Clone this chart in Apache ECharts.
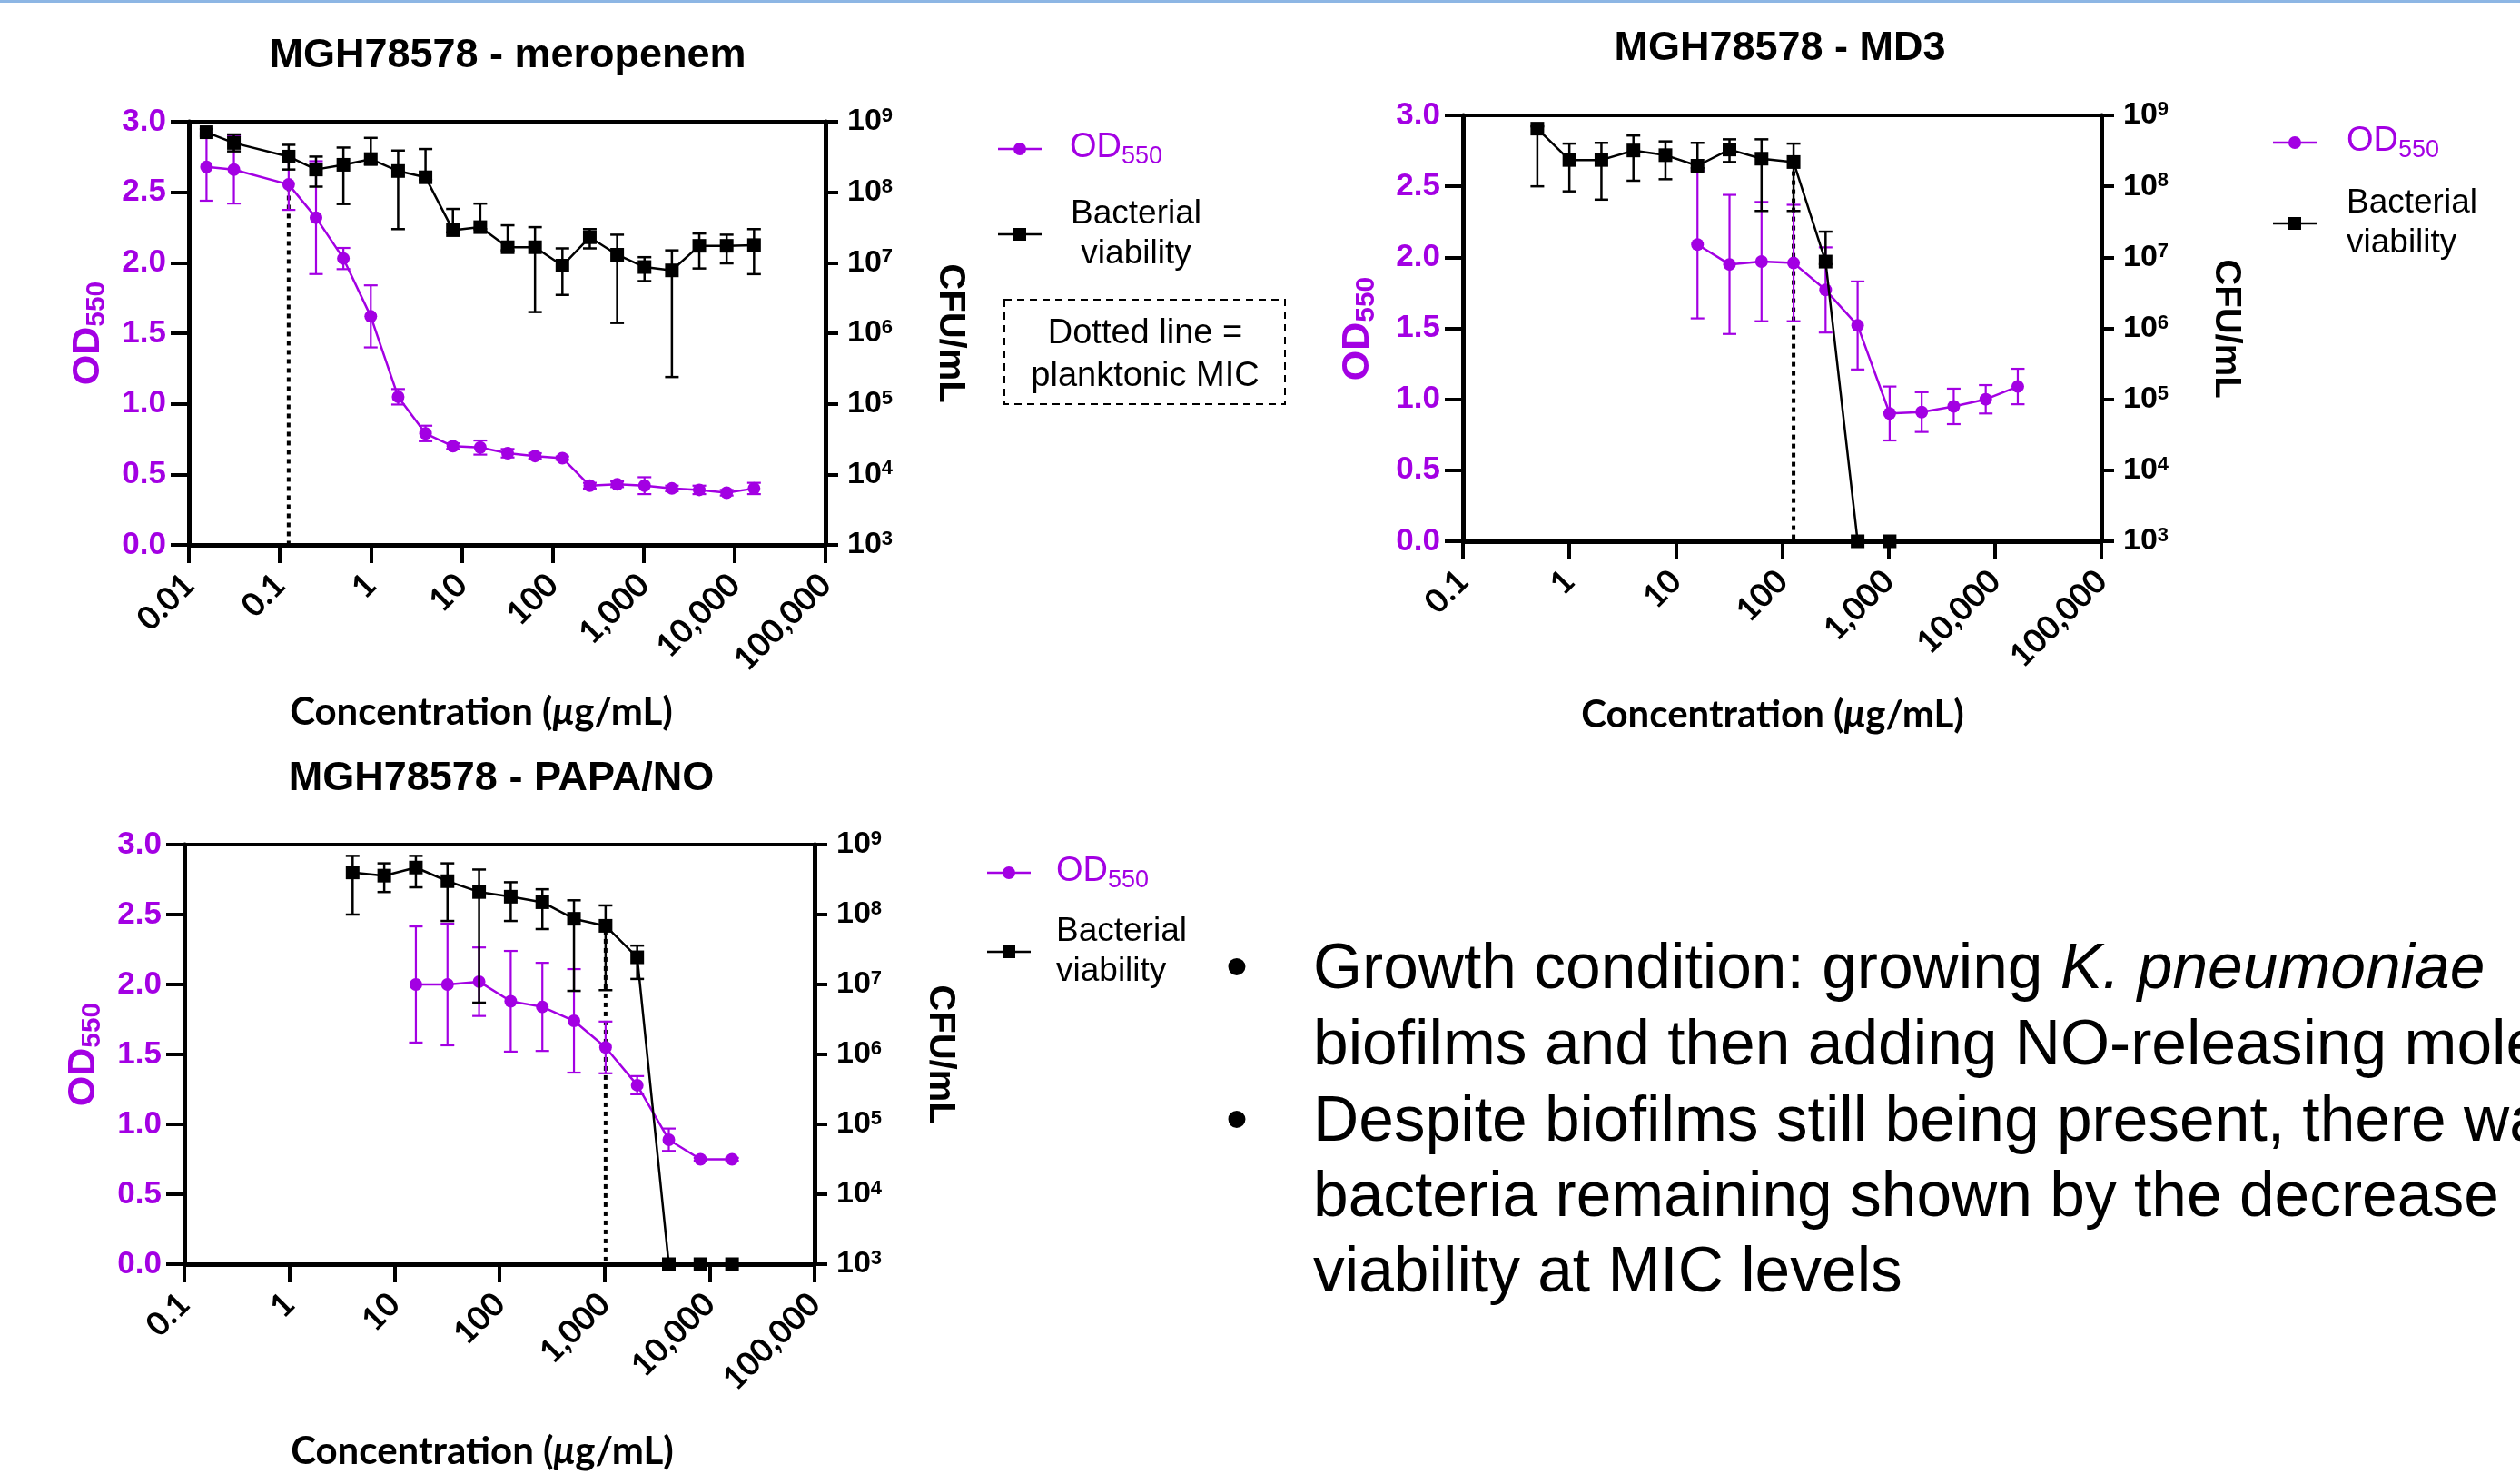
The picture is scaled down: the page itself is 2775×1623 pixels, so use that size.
<!DOCTYPE html>
<html><head><meta charset="utf-8">
<script src="https://cdn.jsdelivr.net/npm/echarts@6/dist/echarts.min.js"></script>
<style>html,body{margin:0;padding:0;background:#fff}#c{width:2775px;height:1623px}</style>
</head><body><div id="c"></div>
<script>
// ---------- data ----------
// Panel 1: meropenem
const meroConc = [0.015625,0.03125,0.125,0.25,0.5,1,2,4,8,16,32,64,128,256,512,1024,2048,4096,8192,16384];
const meroOD   = [2.68,2.66,2.555,2.32,2.03,1.62,1.05,0.79,0.70,0.69,0.65,0.63,0.615,0.42,0.43,0.42,0.40,0.39,0.37,0.40];
const meroODsd = [0.24,0.24,0.18,0.40,0.075,0.22,0.055,0.055,0.02,0.05,0.03,0.02,0.012,0.02,0.02,0.06,0.02,0.03,0.02,0.04];
const meroCFU   = [7.1e8,5.0e8,3.2e8,2.1e8,2.45e8,2.95e8,2.0e8,1.63e8,2.9e7,3.2e7,1.66e7,1.66e7,9.1e6,2.3e7,1.3e7,8.7e6,7.8e6,1.74e7,1.74e7,1.78e7];
const meroCFUhi = [7.9e8,6.6e8,4.7e8,3.2e8,4.3e8,5.9e8,3.9e8,4.1e8,5.8e7,6.9e7,3.4e7,3.2e7,1.6e7,3.0e7,2.5e7,1.2e7,1.5e7,2.6e7,2.5e7,3.0e7];
const meroCFUlo = [6.3e8,3.8e8,2.1e8,1.2e8,6.8e7,2.5e8,3.0e7,1.5e8,2.7e7,3.0e7,1.5e7,2.0e6,3.5e6,1.6e7,1.4e6,5.5e6,2.4e5,8.3e6,9.8e6,6.9e6];
// Panel 2: MD3
const md3Conc = [0.5,1,2,4,8,16,32,64,128,256,512,1024,2048,4096,8192,16384];
const md3OD   = [null,null,null,null,null,2.09,1.95,1.97,1.96,1.77,1.52,0.90,0.91,0.95,1.00,1.09];
const md3ODsd = [null,null,null,null,null,0.52,0.49,0.42,0.41,0.30,0.31,0.19,0.14,0.125,0.10,0.125];
const md3CFU   = [6.5e8,2.35e8,2.35e8,3.2e8,2.75e8,1.95e8,3.3e8,2.45e8,2.2e8,8.7e6,1e3,1e3,null,null,null,null];
const md3CFUhi = [7.0e8,4.0e8,4.1e8,5.2e8,4.3e8,4.1e8,4.6e8,4.6e8,4.0e8,2.3e7,null,null,null,null,null,null];
const md3CFUlo = [1.0e8,8.5e7,6.5e7,1.2e8,1.26e8,1.8e8,2.2e8,4.5e7,4.5e7,8.0e6,null,null,null,null,null,null];
// Panel 3: PAPA/NO
const papaConc = [4,8,16,32,64,128,256,512,1024,2048,4096,8192,16384];
const papaOD   = [null,null,2.0,2.0,2.02,1.88,1.84,1.74,1.55,1.28,0.89,0.75,0.75];
const papaODsd = [null,null,0.415,0.435,0.245,0.36,0.315,0.37,0.185,0.065,0.08,0.01,0.01];
const papaCFU   = [4.0e8,3.6e8,4.7e8,3.0e8,2.1e8,1.8e8,1.5e8,8.7e7,6.9e7,2.45e7,1e3,1e3,1e3];
const papaCFUhi = [6.9e8,5.4e8,6.9e8,5.4e8,4.4e8,2.9e8,2.3e8,1.6e8,1.35e8,3.6e7,null,null,null];
const papaCFUlo = [1.0e8,2.1e8,2.45e8,8.1e7,5.5e6,8.1e7,6.2e7,8.1e6,8.3e6,1.2e7,null,null,null];
// planktonic MIC (dotted line) per panel
const micConc = [0.125, 128, 1024];
const micTop  = [2.54, 2.67, 2.39];
// titles and tick labels
const panelTitles = ['MGH78578 - meropenem','MGH78578 - MD3','MGH78578 - PAPA/NO'];
const xTickValues = [0.01,0.1,1,10,100,1000,10000,100000];
const xTickLabels = ['0.01','0.1','1','10','100','1,000','10,000','100,000'];
const odTickLabels = ['0.0','0.5','1.0','1.5','2.0','2.5','3.0'];
const cfuTickExp = ['3','4','5','6','7','8','9'];
const bulletLines = [
  ['Growth condition: growing ','K. pneumoniae'],
  ['biofilms and then adding NO-releasing molecules',''],
  ['Despite biofilms still being present, there was',''],
  ['bacteria remaining shown by the decrease in',''],
  ['viability at MIC levels','']
];

// ---------- layout ----------
const PURPLE = '#A300E3';
const SANS = 'Liberation Sans, Arial, sans-serif';
const CAL = 'Lato, Carlito, sans-serif';
const panels = [
  {grid:{left:208,top:134,width:701,height:466}, xMin:0.01, xMax:1e5,
   conc:meroConc, od:meroOD, odSd:meroODsd, cfu:meroCFU, hi:meroCFUhi, lo:meroCFUlo},
  {grid:{left:1611,top:127,width:703,height:469}, xMin:0.1, xMax:1e5,
   conc:md3Conc, od:md3OD, odSd:md3ODsd, cfu:md3CFU, hi:md3CFUhi, lo:md3CFUlo},
  {grid:{left:203,top:930,width:694,height:462}, xMin:0.1, xMax:1e5,
   conc:papaConc, od:papaOD, odSd:papaODsd, cfu:papaCFU, hi:papaCFUhi, lo:papaCFUlo}
];

function errRender(color, capW, lw){
  return function(params, api){
    const x = api.value(0), lo = api.value(1), hi = api.value(2);
    const a = api.coord([x, lo]), b = api.coord([x, hi]);
    const st = {stroke: color, lineWidth: lw};
    return {type:'group', children:[
      {type:'line', shape:{x1:a[0],y1:a[1],x2:b[0],y2:b[1]}, style:st},
      {type:'line', shape:{x1:b[0]-capW/2,y1:b[1],x2:b[0]+capW/2,y2:b[1]}, style:st},
      {type:'line', shape:{x1:a[0]-capW/2,y1:a[1],x2:a[0]+capW/2,y2:a[1]}, style:st}
    ]};
  };
}

const grids = [], xAxes = [], yAxes = [], series = [];
panels.forEach((p, i) => {
  grids.push(Object.assign({show:true, borderColor:'#000', borderWidth:4, backgroundColor:'transparent'}, p.grid));
  xAxes.push({
    type:'log', logBase:10, gridIndex:i, min:p.xMin, max:p.xMax, position:'bottom',
    axisLine:{show:true, onZero:false, lineStyle:{color:'#000', width:5}},
    axisTick:{show:true, length:20, lineStyle:{color:'#000', width:4}},
    minorTick:{show:false}, splitLine:{show:false},
    axisLabel:{show:true, rotate:45, margin:38, color:'#000', fontFamily:CAL, fontWeight:'bold', fontSize:36,
      showMinLabel:true, showMaxLabel:true,
      formatter: v => { const e = Math.round(Math.log10(v)); const k = xTickValues.findIndex(t => Math.round(Math.log10(t)) === e); return k >= 0 ? xTickLabels[k] : ''; }}
  });
  yAxes.push({
    type:'value', gridIndex:i, min:0, max:3, interval:0.5, position:'left',
    axisLine:{show:true, onZero:false, lineStyle:{color:'#000', width:5}},
    axisTick:{show:true, length:20, lineStyle:{color:'#000', width:4}},
    splitLine:{show:false},
    axisLabel:{margin:25, color:PURPLE, fontFamily:SANS, fontWeight:'bold', fontSize:35,
      formatter: v => odTickLabels[Math.round(v / 0.5)]}
  });
  yAxes.push({
    type:'log', logBase:10, gridIndex:i, min:1e3, max:1e9, position:'right',
    axisLine:{show:true, onZero:false, lineStyle:{color:'#000', width:5}},
    axisTick:{show:true, length:14, lineStyle:{color:'#000', width:4}},
    minorTick:{show:false}, splitLine:{show:false},
    axisLabel:{margin:24, showMinLabel:true, showMaxLabel:true,
      formatter: v => '{b|10}{s|' + cfuTickExp[Math.round(Math.log10(v)) - 3] + '}',
      rich:{ b:{fontFamily:SANS, fontWeight:'bold', fontSize:34, color:'#000', lineHeight:34},
             s:{fontFamily:SANS, fontWeight:'bold', fontSize:22, color:'#000', lineHeight:14, verticalAlign:'top'} }}
  });
  const odErr = [], cfuErr = [], odPts = [], cfuPts = [];
  p.conc.forEach((c, k) => {
    if (p.od[k] != null) {
      odPts.push([c, p.od[k]]);
      odErr.push([c, p.od[k] - p.odSd[k], p.od[k] + p.odSd[k]]);
    }
    if (p.cfu[k] != null) {
      cfuPts.push([c, p.cfu[k]]);
      if (p.hi[k] != null) cfuErr.push([c, p.lo[k], p.hi[k]]);
    }
  });
  series.push({type:'custom', xAxisIndex:i, yAxisIndex:2*i, renderItem:errRender(PURPLE, 15, 2.2),
    data:odErr, encode:{x:0, y:[1,2]}, clip:false, z:2, silent:true});
  series.push({type:'line', name:'OD550', xAxisIndex:i, yAxisIndex:2*i, data:odPts, clip:false, z:3,
    symbol:'circle', symbolSize:14, itemStyle:{color:PURPLE}, lineStyle:{color:PURPLE, width:2.5}});
  series.push({type:'custom', xAxisIndex:i, yAxisIndex:2*i+1, renderItem:errRender('#000', 15, 2.5),
    data:cfuErr, encode:{x:0, y:[1,2]}, clip:false, z:4, silent:true});
  series.push({type:'line', name:'Bacterial viability', xAxisIndex:i, yAxisIndex:2*i+1, data:cfuPts, clip:false, z:5,
    symbol:'rect', symbolSize:15, itemStyle:{color:'#000'}, lineStyle:{color:'#000', width:2.5}});
  series.push({type:'line', name:'MIC', xAxisIndex:i, yAxisIndex:2*i, data:[[micConc[i], micTop[i]],[micConc[i], 0]],
    symbol:'none', clip:false, z:1, lineStyle:{color:'#000', width:4, type:[5,5]}});
});

// ---------- graphic: titles, axis names, legends, notes ----------
const g = [];
g.push({type:'rect', shape:{x:0, y:0, width:2775, height:3}, style:{fill:'#8DB6E4'}});
const titlePos = [[559,62],[1960,54],[552,858]];
panelTitles.forEach((t, i) => g.push({type:'text', x:titlePos[i][0], y:titlePos[i][1],
  style:{text:t, fontFamily:SANS, fontWeight:'bold', fontSize:45, fill:'#000', align:'center', verticalAlign:'middle'}}));
const odNamePos = [[97,367],[1495,362],[92,1161]];
odNamePos.forEach(pp => g.push({type:'text', x:pp[0], y:pp[1], rotation:Math.PI/2,
  style:{text:'{a|OD}{s|550}', align:'center', verticalAlign:'middle',
    rich:{a:{fontFamily:SANS, fontWeight:'bold', fontSize:43, fill:PURPLE, lineHeight:50},
          s:{fontFamily:SANS, fontWeight:'bold', fontSize:30, fill:PURPLE, lineHeight:22, verticalAlign:'bottom'}}}}));
const cfuNamePos = [[1046,367],[2451,362],[1035,1161]];
cfuNamePos.forEach(pp => g.push({type:'text', x:pp[0], y:pp[1], rotation:-Math.PI/2,
  style:{text:'CFU/mL', fontFamily:SANS, fontWeight:'bold', fontSize:40, fill:'#000', align:'center', verticalAlign:'middle'}}));
const xNamePos = [[530,784],[1952,787],[531,1598]];
xNamePos.forEach(pp => g.push({type:'text', x:pp[0], y:pp[1],
  style:{text:'{n|Concentration (}{i|μ}{n|g/mL)}', align:'center', verticalAlign:'middle',
    rich:{n:{fontFamily:CAL, fontWeight:'bold', fontSize:42, fill:'#000'},
          i:{fontFamily:CAL, fontWeight:'bold', fontStyle:'italic', fontSize:42, fill:'#000'}}}}));
// legends: [lineX0, odY, cfuY, textX, centered]
const legends = [[1099,164,258,1178,true],[2503,157,246,2584,false],[1087,961,1048,1163,false]];
legends.forEach(L => {
  const x0 = L[0], x1 = L[0] + 48, xm = (x0 + x1) / 2;
  g.push({type:'line', shape:{x1:x0, y1:L[1], x2:x1, y2:L[1]}, style:{stroke:PURPLE, lineWidth:2.5}});
  g.push({type:'circle', shape:{cx:xm, cy:L[1], r:7}, style:{fill:PURPLE}});
  g.push({type:'line', shape:{x1:x0, y1:L[2], x2:x1, y2:L[2]}, style:{stroke:'#000', lineWidth:2.5}});
  g.push({type:'rect', shape:{x:xm-7, y:L[2]-7, width:14, height:14}, style:{fill:'#000'}});
  g.push({type:'text', x:L[3], y:L[1]-1, style:{text:'{a|OD}{s|550}', align:'left', verticalAlign:'middle',
    rich:{a:{fontFamily:SANS, fontSize:38, fill:PURPLE, lineHeight:46},
          s:{fontFamily:SANS, fontSize:27, fill:PURPLE, lineHeight:17, verticalAlign:'bottom'}}}});
  g.push({type:'text', x:L[4] ? 1251 : L[3], y:L[2], style:{text:'Bacterial\nviability', fontFamily:SANS, fontSize:37,
    lineHeight:44, fill:'#000', align:L[4] ? 'center' : 'left', verticalAlign:'middle'}});
});
g.push({type:'rect', shape:{x:1106, y:330, width:309, height:115}, style:{fill:'none', stroke:'#000', lineWidth:2, lineDash:[8,6]}});
g.push({type:'text', x:1261, y:391, style:{text:'Dotted line =\nplanktonic MIC', fontFamily:SANS, fontSize:38,
  lineHeight:47, fill:'#000', align:'center', verticalAlign:'middle'}});
const lineY = [1069, 1153, 1237, 1320, 1403];
bulletLines.forEach((ln, k) => {
  if (k === 0 || k === 2) g.push({type:'text', x:1362, y:lineY[k], style:{text:'•', fontFamily:SANS, fontSize:70, fill:'#000', align:'center', verticalAlign:'middle'}});
  g.push({type:'text', x:1446, y:lineY[k], style:{text:'{n|' + ln[0] + '}' + (ln[1] ? '{i|' + ln[1] + '}' : ''), align:'left', verticalAlign:'middle',
    rich:{n:{fontFamily:SANS, fontSize:69.5, fill:'#000'}, i:{fontFamily:SANS, fontStyle:'italic', fontSize:69.5, fill:'#000'}}}});
});

const chart = echarts.init(document.getElementById('c'), null, {renderer:'canvas'});
chart.setOption({
  animation:false, backgroundColor:'#fff',
  grid:grids, xAxis:xAxes, yAxis:yAxes, series:series, graphic:g
});
</script></body></html>
